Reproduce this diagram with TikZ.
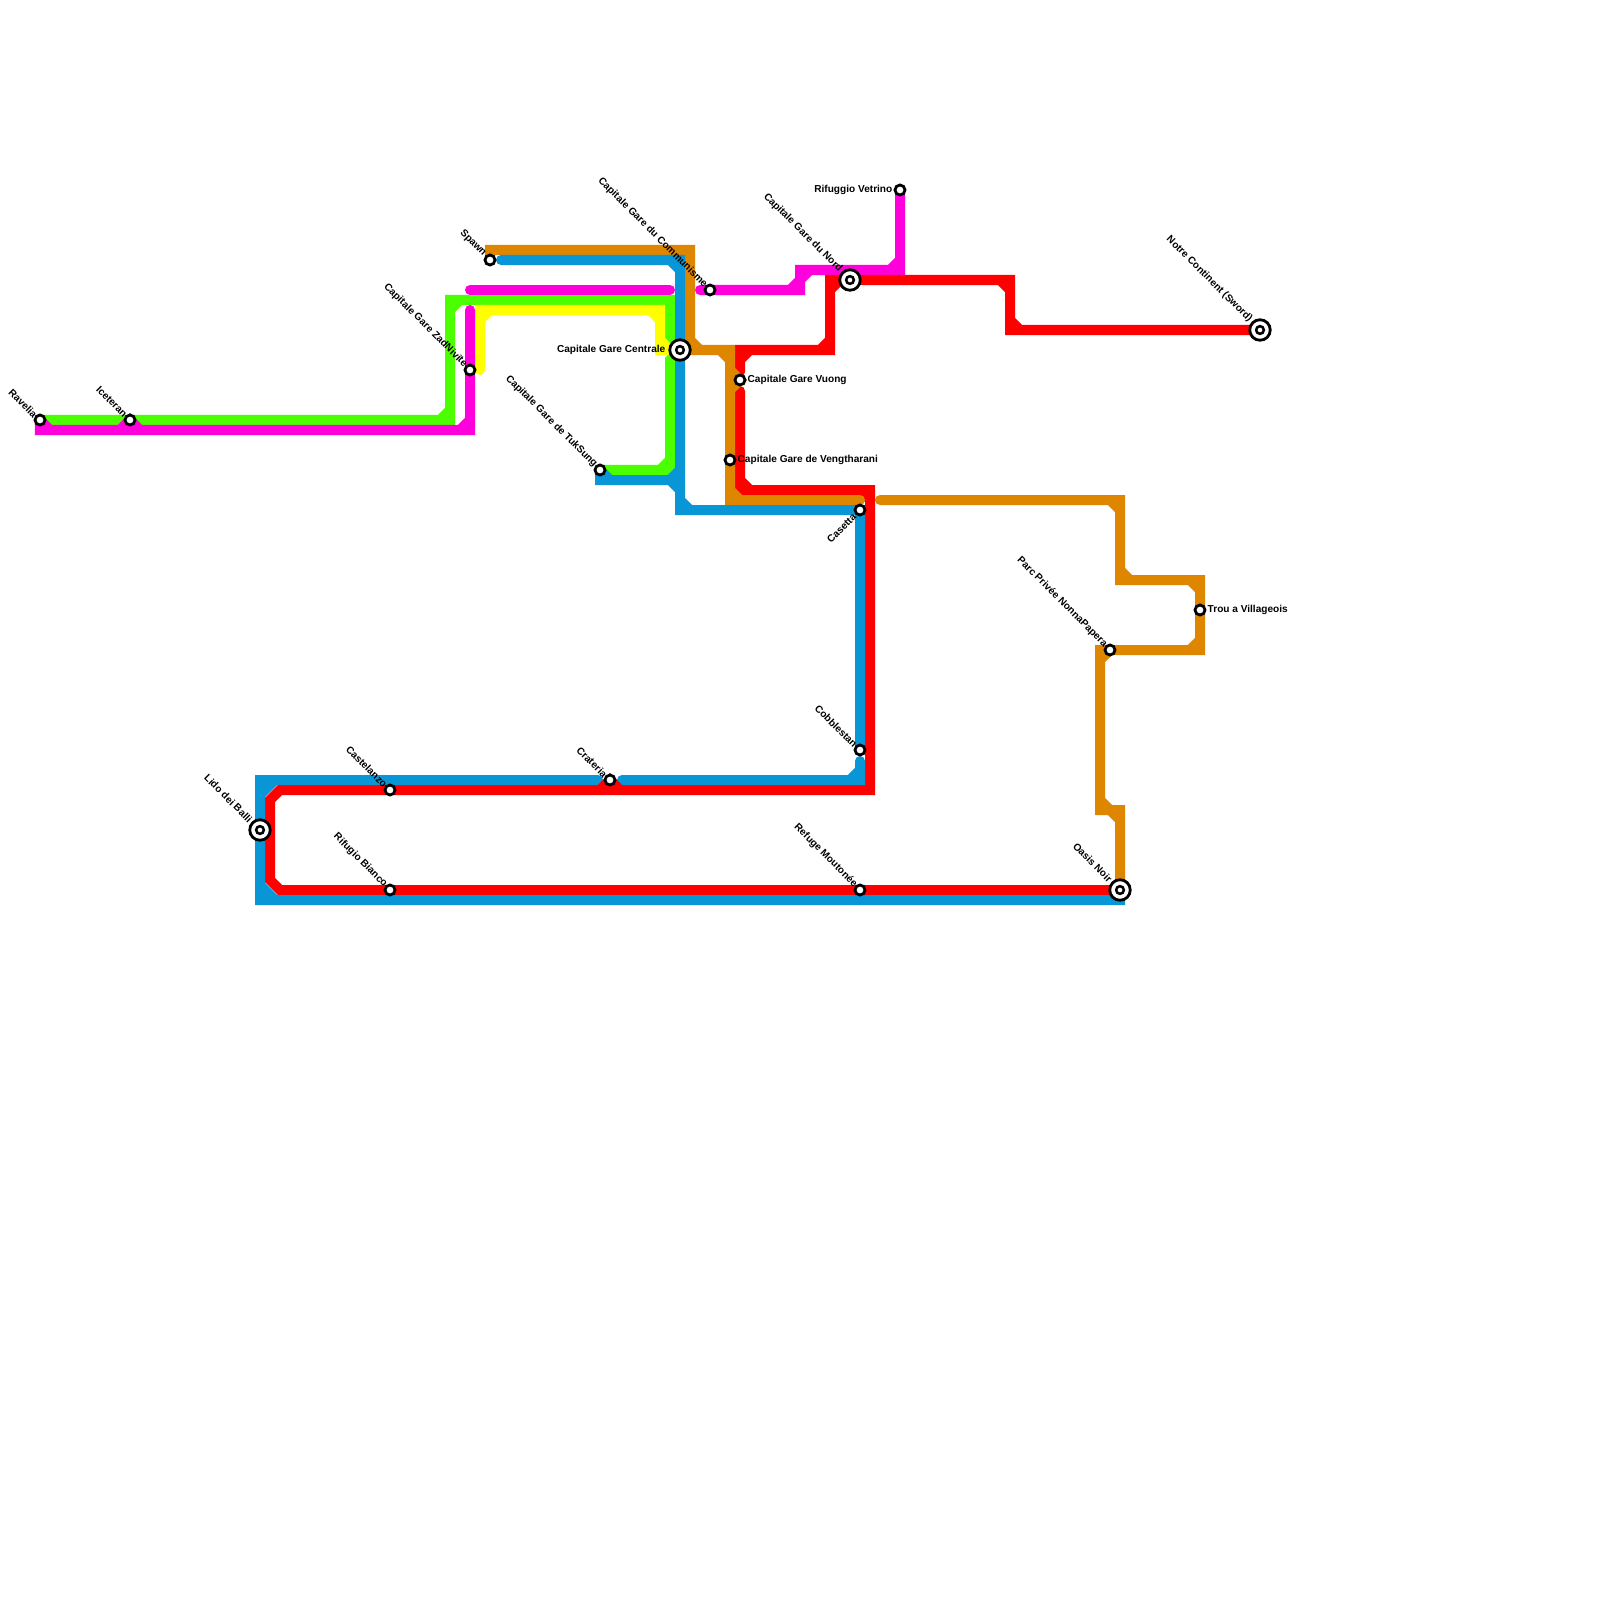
\documentclass[tikz,border=0pt]{standalone}
\usepackage{fontspec}
\setmainfont{Liberation Sans}
\usetikzlibrary{backgrounds}
\definecolor{lnorange}{HTML}{DF8600}
\definecolor{lnblue}{HTML}{0896D7}
\definecolor{lnred}{HTML}{FF0000}
\definecolor{lngreen}{HTML}{4BFF00}
\definecolor{lnpink}{HTML}{FF00DC}
\definecolor{lnyellow}{HTML}{FFFF00}
\tikzset{
  stn/.style={circle, draw=black, fill=white, line width=0.028cm, minimum size=0.1cm, inner sep=0pt},
  hub/.style={circle, draw=black, fill=white, line width=0.028cm, minimum size=0.205cm, inner sep=0pt},
  hubdot/.style={circle, draw=black, fill=white, line width=0.025cm, minimum size=0.077cm, inner sep=0pt},
  lbl/.style={font=\bfseries\fontsize{2.87pt}{3.2pt}\selectfont, inner sep=0pt, text=black},
  lblnw/.style={lbl, rotate=-45, anchor=east},
  lblsw/.style={lbl, rotate=45, anchor=east},
  lblw/.style={lbl, anchor=east},
  lble/.style={lbl, anchor=west},
  metro/.style={line width=0.1cm, line cap=round, line join=miter, color=#1}
}
\begin{document}
\begin{tikzpicture}[x=0.01cm, y=-0.01cm]
  \useasboundingbox (0,0) rectangle (1600,1600);
  % stations
  \node[stn] (ravelia) at (40,420) {};
  \node[stn] (iceteran) at (130,420) {};
  \node[stn] (zadnivite) at (470,370) {};
  \node[stn] (spawn) at (490,260) {};
  \node[stn] (communisme) at (710,290) {};
  \node[stn] (tuksung) at (600,470) {};
  \node[stn] (vetrino) at (900,190) {};
  \node[stn] (vuong) at (740,380) {};
  \node[stn] (vengtharani) at (730,460) {};
  \node[stn] (casetta) at (860,510) {};
  \node[stn] (parcprivee) at (1110,650) {};
  \node[stn] (trou) at (1200,610) {};
  \node[stn] (moutonee) at (860,890) {};
  \node[stn] (cobblestan) at (860,750) {};
  \node[stn] (crateria) at (610,780) {};
  \node[stn] (castelanzo) at (390,790) {};
  \node[stn] (bianco) at (390,890) {};
  \node[hub] (centrale) at (680,350) {};
  \node[hubdot] at (centrale) {};
  \node[hub] (nord) at (850,280) {};
  \node[hubdot] at (nord) {};
  \node[hub] (continent) at (1260,330) {};
  \node[hubdot] at (continent) {};
  \node[hub] (oasis) at (1120,890) {};
  \node[hubdot] at (oasis) {};
  \node[hub] (balli) at (260,830) {};
  \node[hubdot] at (balli) {};
  % labels
  \node[lblnw] at ([shift={(-4,-4)}]ravelia) {Ravelia};
  \node[lblnw] at ([shift={(-4,-4)}]iceteran) {Iceteran};
  \node[lblnw] at ([shift={(-4,-4)}]zadnivite) {Capitale Gare ZadNivite};
  \node[lblnw] at ([shift={(-5,-5)}]spawn) {Spawn};
  \node[lblnw] at ([shift={(-4,-4)}]communisme) {Capitale Gare du Communisme};
  \node[lblnw] at ([shift={(-4,-4)}]tuksung) {Capitale Gare de TukSung};
  \node[lblw] at ([shift={(-7,0)}]vetrino) {Rifuggio Vetrino};
  \node[lble] at ([shift={(7,0)}]vuong) {Capitale Gare Vuong};
  \node[lble] at ([shift={(7,0)}]vengtharani) {Capitale Gare de Vengtharani};
  \node[lblsw] at ([shift={(-5,5)}]casetta) {Casetta};
  \node[lblnw] at ([shift={(-4,-4)}]parcprivee) {Parc Privée NonnaPapera};
  \node[lble] at ([shift={(7,0)}]trou) {Trou a Villageois};
  \node[lblnw] at ([shift={(-4,-4)}]moutonee) {Refuge Moutonée};
  \node[lblnw] at ([shift={(-4,-4)}]cobblestan) {Cobblestan};
  \node[lblnw] at ([shift={(-4,-4)}]crateria) {Crateria};
  \node[lblnw] at ([shift={(-4,-4)}]castelanzo) {Castelanzo};
  \node[lblnw] at ([shift={(-4,-4)}]bianco) {Rifugio Bianco};
  \node[lblw] at ([shift={(-14,0)}]centrale) {Capitale Gare Centrale};
  \node[lblnw] at ([shift={(-9,-9)}]nord) {Capitale Gare du Nord};
  \node[lblnw] at ([shift={(-9,-9)}]continent) {Notre Continent (Sword)};
  \node[lblnw] at ([shift={(-9,-9)}]oasis) {Oasis Noir};
  \node[lblnw] at ([shift={(-9,-9)}]balli) {Lido dei Balli};
  % free line ends
  \coordinate (yellowend) at (480,370);
  \coordinate (pinkend) at (470,310);
  \coordinate (pinkwest) at (470,290);
  \coordinate (pinkeast) at (670,290);
  \coordinate (pinkstart) at (700,290);
  \coordinate (redgapn) at (740,372);
  \coordinate (redgaps) at (740,391);
  \coordinate (orangestart) at (880,500);
  \coordinate (orangestop) at (860,500);
  \coordinate (bluestart) at (501,260);
  \coordinate (bluegape) at (622,780);
  \coordinate (bluegapw) at (598,780);
  \coordinate (bluecobble) at (860,761);
  \begin{pgfonlayer}{background}
    % green
    \draw[metro=lngreen] (ravelia.center) -- (450,420) -- (450,300) -- (670,300) -- (670,340) -- (centrale.center)
      (440,420) -- (450,410) (450,310) -- (460,300) (660,300) -- (670,310);
    \draw[metro=lngreen] (centrale.center) -- (670,360) -- (670,470) -- (tuksung.center)
      (670,460) -- (660,470);
    % yellow
    \draw[metro=lnyellow] (yellowend) -- (480,310) -- (660,310) -- (660,350) -- (centrale.center)
      (480,320) -- (490,310) (650,310) -- (660,320) (660,340) -- (670,350);
    % pink
    \draw[metro=lnpink] (ravelia.center) -- (40,430) -- (470,430) -- (pinkend)
      (ravelia.center) -- (50,430) (120,430) -- (iceteran.center) -- (140,430) (470,420) -- (460,430);
    \draw[metro=lnpink] (pinkwest) -- (pinkeast);
    \draw[metro=lnpink] (pinkstart) -- (800,290) -- (800,270) -- (900,270) -- (vetrino.center)
      (790,290) -- (800,280) (800,280) -- (810,270) (890,270) -- (900,260);
    % red
    \draw[metro=lnred] (continent.center) -- (1010,330) -- (1010,280) -- (830,280) -- (830,350) -- (740,350) -- (redgapn)
      (1020,330) -- (1010,320) (1010,290) -- (1000,280) (840,280) -- (830,290) (830,340) -- (820,350) (750,350) -- (740,360);
    \draw[metro=lnred] (redgaps) -- (740,490) -- (870,490) -- (870,790) -- (280,790) -- (270,800) -- (270,880) -- (280,890) -- (oasis.center)
      (740,480) -- (750,490) (860,490) -- (870,500) (870,780) -- (860,790);
    % orange
    \draw[metro=lnorange] (spawn.center) -- (490,250) -- (690,250) -- (690,350) -- (730,350) -- (730,500) -- (orangestop)
      (690,340) -- (700,350) (720,350) -- (730,360) (730,370) -- (vuong.center) -- (730,390) (730,490) -- (740,500);
    \draw[metro=lnorange] (centrale.center) -- (690,350);
    \draw[metro=lnorange] (orangestart) -- (1120,500) -- (1120,580) -- (1200,580) -- (1200,650) -- (1100,650) -- (1100,810) -- (1120,810) -- (oasis.center)
      (1110,500) -- (1120,510) (1120,570) -- (1130,580) (1190,580) -- (1200,590) (1200,640) -- (1190,650) (1110,650) -- (1100,660) (1100,800) -- (1110,810) (1110,810) -- (1120,820);
    % blue
    \draw[metro=lnblue] (bluestart) -- (680,260) -- (680,510) -- (860,510) -- (cobblestan.center)
      (670,260) -- (680,270) (680,500) -- (690,510);
    \draw[metro=lnblue] (tuksung.center) -- (600,480) -- (680,480)
      (tuksung.center) -- (610,480) (680,470) -- (670,480) (670,480) -- (680,490);
    \draw[metro=lnblue] (bluecobble) -- (860,780) -- (bluegape)
      (860,770) -- (850,780);
    \draw[metro=lnblue] (bluegapw) -- (260,780) -- (260,900) -- (1120,900) -- (oasis.center)
      (275,780) -- (260,795) (260,885) -- (275,900);
    % red bump under crateria
    \draw[metro=lnred] (600,790) -- (crateria.center) -- (620,790);
  \end{pgfonlayer}
\end{tikzpicture}
\end{document}
